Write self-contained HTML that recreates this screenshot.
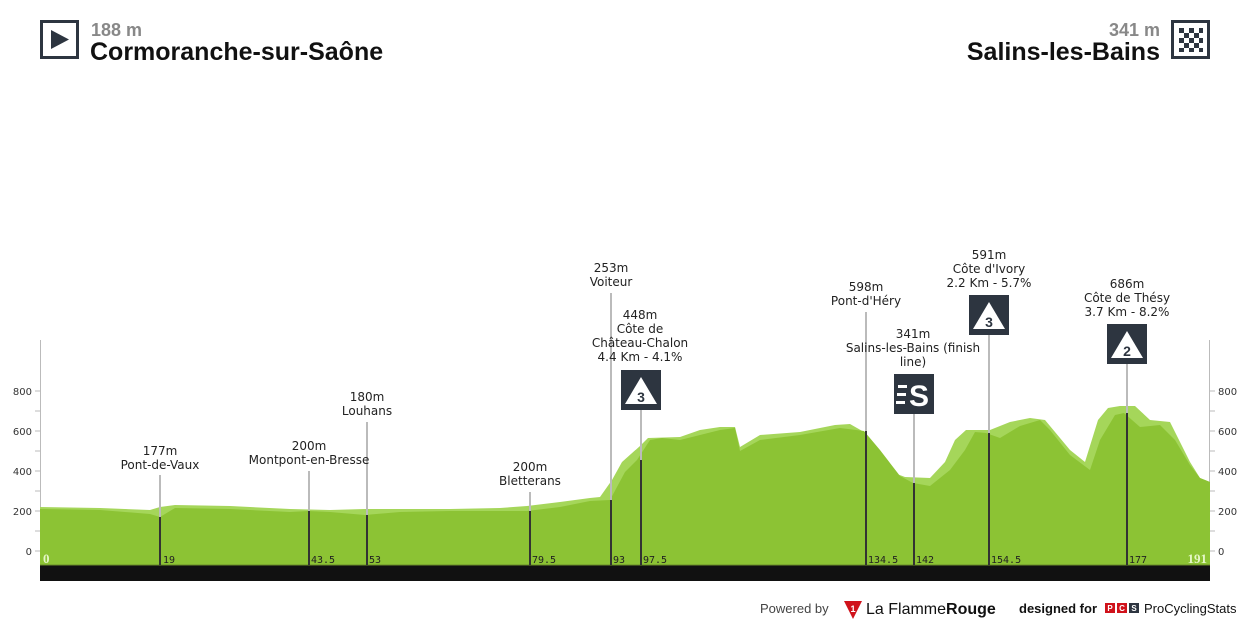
<!DOCTYPE html>
<html><head><meta charset="utf-8"><style>
body{margin:0;width:1250px;height:625px;background:#fff;overflow:hidden;font-family:"Liberation Sans",sans-serif;}
svg{position:absolute;left:0;top:0}
</style></head><body>
<svg width="1250" height="625" viewBox="0 0 1250 625" font-family="Liberation Sans, sans-serif">
<!-- header -->
<rect x="41.5" y="21.5" width="36" height="36" fill="#fff" stroke="#2d3540" stroke-width="3"/>
<polygon points="51,30 51,49 69,39.5" fill="#2d3540"/>
<text x="91" y="36" font-size="18" font-weight="bold" fill="#888">188 m</text>
<text x="90" y="60" font-size="25" font-weight="bold" fill="#111">Cormoranche-sur-Saône</text>
<rect x="1172.5" y="21.5" width="36" height="36" fill="#fff" stroke="#2d3540" stroke-width="3"/>
<g fill="#2d3540">
<rect x="1179" y="28" width="5" height="5"/><rect x="1189" y="28" width="5" height="5"/><rect x="1199" y="28" width="4" height="5"/>
<rect x="1184" y="33" width="5" height="5"/><rect x="1194" y="33" width="5" height="5"/>
<rect x="1179" y="38" width="5" height="5"/><rect x="1189" y="38" width="5" height="5"/><rect x="1199" y="38" width="4" height="5"/>
<rect x="1184" y="43" width="5" height="5"/><rect x="1194" y="43" width="5" height="5"/>
<rect x="1179" y="48" width="5" height="4"/><rect x="1189" y="48" width="5" height="4"/><rect x="1199" y="48" width="4" height="4"/>
</g>
<text x="1160" y="36" font-size="18" font-weight="bold" fill="#888" text-anchor="end">341 m</text>
<text x="1160" y="60" font-size="25" font-weight="bold" fill="#111" text-anchor="end">Salins-les-Bains</text>

<!-- axes -->
<g stroke="#bbb" stroke-width="1">
<line x1="40.5" y1="340" x2="40.5" y2="580"/><line x1="1209.5" y1="340" x2="1209.5" y2="580"/>
<line x1="35" y1="551" x2="40" y2="551"/><line x1="35" y1="531" x2="40" y2="531"/><line x1="35" y1="511" x2="40" y2="511"/><line x1="35" y1="491" x2="40" y2="491"/><line x1="35" y1="471" x2="40" y2="471"/><line x1="35" y1="451" x2="40" y2="451"/><line x1="35" y1="431" x2="40" y2="431"/><line x1="35" y1="411" x2="40" y2="411"/><line x1="35" y1="391" x2="40" y2="391"/>
<line x1="1210" y1="551" x2="1215" y2="551"/><line x1="1210" y1="531" x2="1215" y2="531"/><line x1="1210" y1="511" x2="1215" y2="511"/><line x1="1210" y1="491" x2="1215" y2="491"/><line x1="1210" y1="471" x2="1215" y2="471"/><line x1="1210" y1="451" x2="1215" y2="451"/><line x1="1210" y1="431" x2="1215" y2="431"/><line x1="1210" y1="411" x2="1215" y2="411"/><line x1="1210" y1="391" x2="1215" y2="391"/>
</g>
<g font-size="10" fill="#333" text-anchor="end" font-family="DejaVu Sans, sans-serif">
<text x="32" y="555">0</text><text x="32" y="515">200</text><text x="32" y="475">400</text><text x="32" y="435">600</text><text x="32" y="395">800</text>
</g>
<g font-size="10" fill="#333" font-family="DejaVu Sans, sans-serif">
<text x="1218" y="555">0</text><text x="1218" y="515">200</text><text x="1218" y="475">400</text><text x="1218" y="435">600</text><text x="1218" y="395">800</text>
</g>

<!-- profile light -->
<polygon fill="#a5d65a" points="40,565 40,507 100,508 150,510 160,507 175,505 230,506 290,509 330,510 365,509 400,509 450,509 500,508 527,506 560,502 590,498 600,497 612,480 622,462 640,446 648,438 680,437 700,430 720,427 735,427 740,447 760,435 800,432 835,425 850,424 864,432 880,455 897,474 905,477 930,478 945,462 955,440 966,430 990,430 1010,422 1030,418 1045,420 1070,450 1085,462 1098,420 1108,408 1120,406 1135,406 1150,420 1170,422 1190,462 1200,478 1210,482 1210,565"/>
<!-- profile dark -->
<polygon fill="#8cc334" points="40,565 40,509 100,510 150,514 160,517 175,508 230,509 290,512 308,511 330,512 365,515 400,512 450,511 500,511 527,511 560,507 590,501 610,500 625,472 637,460 650,440 662,438 680,440 700,435 720,430 735,428 740,451 760,440 800,435 840,428 864,431 880,450 900,476 913,483 930,486 950,470 965,450 975,432 986,433 1000,438 1020,426 1040,420 1050,430 1070,455 1090,470 1100,440 1115,415 1124,413 1140,427 1160,425 1175,440 1190,465 1200,478 1210,482 1210,565"/>
<rect x="40" y="565" width="1170" height="16" fill="#111"/>
<line x1="40" y1="565" x2="1210" y2="565" stroke="#6a8c2a" stroke-width="1"/>

<!-- markers -->
<g stroke="#bbb" stroke-width="2">
<line x1="160" y1="475" x2="160" y2="517"/>
<line x1="309" y1="471" x2="309" y2="511"/>
<line x1="367" y1="422" x2="367" y2="515"/>
<line x1="530" y1="492" x2="530" y2="511"/>
<line x1="611" y1="293" x2="611" y2="500"/>
<line x1="641" y1="410" x2="641" y2="460"/>
<line x1="866" y1="312" x2="866" y2="431"/>
<line x1="914" y1="413" x2="914" y2="483"/>
<line x1="989" y1="334" x2="989" y2="433"/>
<line x1="1127" y1="363" x2="1127" y2="413"/>
</g>
<g stroke="#333" stroke-width="2">
<line x1="160" y1="517" x2="160" y2="565"/>
<line x1="309" y1="511" x2="309" y2="565"/>
<line x1="367" y1="515" x2="367" y2="565"/>
<line x1="530" y1="511" x2="530" y2="565"/>
<line x1="611" y1="500" x2="611" y2="565"/>
<line x1="641" y1="460" x2="641" y2="565"/>
<line x1="866" y1="431" x2="866" y2="565"/>
<line x1="914" y1="483" x2="914" y2="565"/>
<line x1="989" y1="433" x2="989" y2="565"/>
<line x1="1127" y1="413" x2="1127" y2="565"/>
</g>
<g font-size="10" fill="#222" font-family="DejaVu Sans Mono, monospace">
<text x="163" y="563">19</text><text x="311" y="563">43.5</text><text x="369" y="563">53</text><text x="532" y="563">79.5</text><text x="613" y="563">93</text><text x="643" y="563">97.5</text><text x="868" y="563">134.5</text><text x="916" y="563">142</text><text x="991" y="563">154.5</text><text x="1129" y="563">177</text>
</g>
<text x="43" y="563" font-size="13" font-weight="bold" fill="#e6f7c8" font-family="Liberation Serif, serif">0</text>
<text x="1207" y="563" font-size="13" font-weight="bold" fill="#e6f7c8" font-family="Liberation Serif, serif" text-anchor="end">191</text>

<!-- labels -->
<g font-size="12" fill="#222" text-anchor="middle" font-family="DejaVu Sans, sans-serif">
<text x="160" y="455">177m</text><text x="160" y="469">Pont-de-Vaux</text>
<text x="309" y="450">200m</text><text x="309" y="464">Montpont-en-Bresse</text>
<text x="367" y="401">180m</text><text x="367" y="415">Louhans</text>
<text x="530" y="471">200m</text><text x="530" y="485">Bletterans</text>
<text x="611" y="272">253m</text><text x="611" y="286">Voiteur</text>
<text x="640" y="319">448m</text><text x="640" y="333">Côte de</text><text x="640" y="347">Château-Chalon</text><text x="640" y="361">4.4 Km - 4.1%</text>
<text x="866" y="291">598m</text><text x="866" y="305">Pont-d'Héry</text>
<text x="913" y="338">341m</text><text x="913" y="352">Salins-les-Bains (finish</text><text x="913" y="366">line)</text>
<text x="989" y="259">591m</text><text x="989" y="273">Côte d'Ivory</text><text x="989" y="287">2.2 Km - 5.7%</text>
<text x="1127" y="288">686m</text><text x="1127" y="302">Côte de Thésy</text><text x="1127" y="316">3.7 Km - 8.2%</text>
</g>

<!-- icons -->
<g>
<rect x="621" y="370" width="40" height="40" fill="#2d3540"/>
<polygon points="641,377 625,404 657,404" fill="#fff"/>
<text x="641" y="402" font-size="14" font-weight="bold" fill="#2d3540" text-anchor="middle">3</text>
<rect x="894" y="374" width="40" height="40" fill="#2d3540"/>
<text x="919" y="406" font-size="30" font-weight="bold" fill="#fff" text-anchor="middle">S</text>
<rect x="898" y="385" width="9" height="3" fill="#fff"/><rect x="897" y="393" width="9" height="3" fill="#fff"/><rect x="896" y="401" width="9" height="3" fill="#fff"/>
<rect x="969" y="295" width="40" height="40" fill="#2d3540"/>
<polygon points="989,302 973,329 1005,329" fill="#fff"/>
<text x="989" y="327" font-size="14" font-weight="bold" fill="#2d3540" text-anchor="middle">3</text>
<rect x="1107" y="324" width="40" height="40" fill="#2d3540"/>
<polygon points="1127,331 1111,358 1143,358" fill="#fff"/>
<text x="1127" y="356" font-size="14" font-weight="bold" fill="#2d3540" text-anchor="middle">2</text>
</g>

<!-- footer -->
<text x="760" y="613" font-size="13" fill="#444">Powered by</text>
<polygon points="844,601 862,601 853,619" fill="#d0121b"/>
<text x="853" y="612" font-size="9" font-weight="bold" fill="#fff" text-anchor="middle">1</text>
<text x="866" y="614" font-size="16" fill="#111">La Flamme<tspan font-weight="bold">Rouge</tspan></text>
<text x="1019" y="613" font-size="13" font-weight="bold" fill="#111">designed for</text>
<rect x="1105" y="603" width="10" height="10" fill="#d0121b"/><rect x="1117" y="603" width="10" height="10" fill="#d0121b"/><rect x="1129" y="603" width="10" height="10" fill="#2d3540"/>
<g font-size="8" font-weight="bold" fill="#fff" text-anchor="middle"><text x="1110" y="611">P</text><text x="1122" y="611">C</text><text x="1134" y="611">S</text></g>
<text x="1144" y="613" font-size="13" fill="#111">ProCyclingStats</text>
</svg>
</body></html>
